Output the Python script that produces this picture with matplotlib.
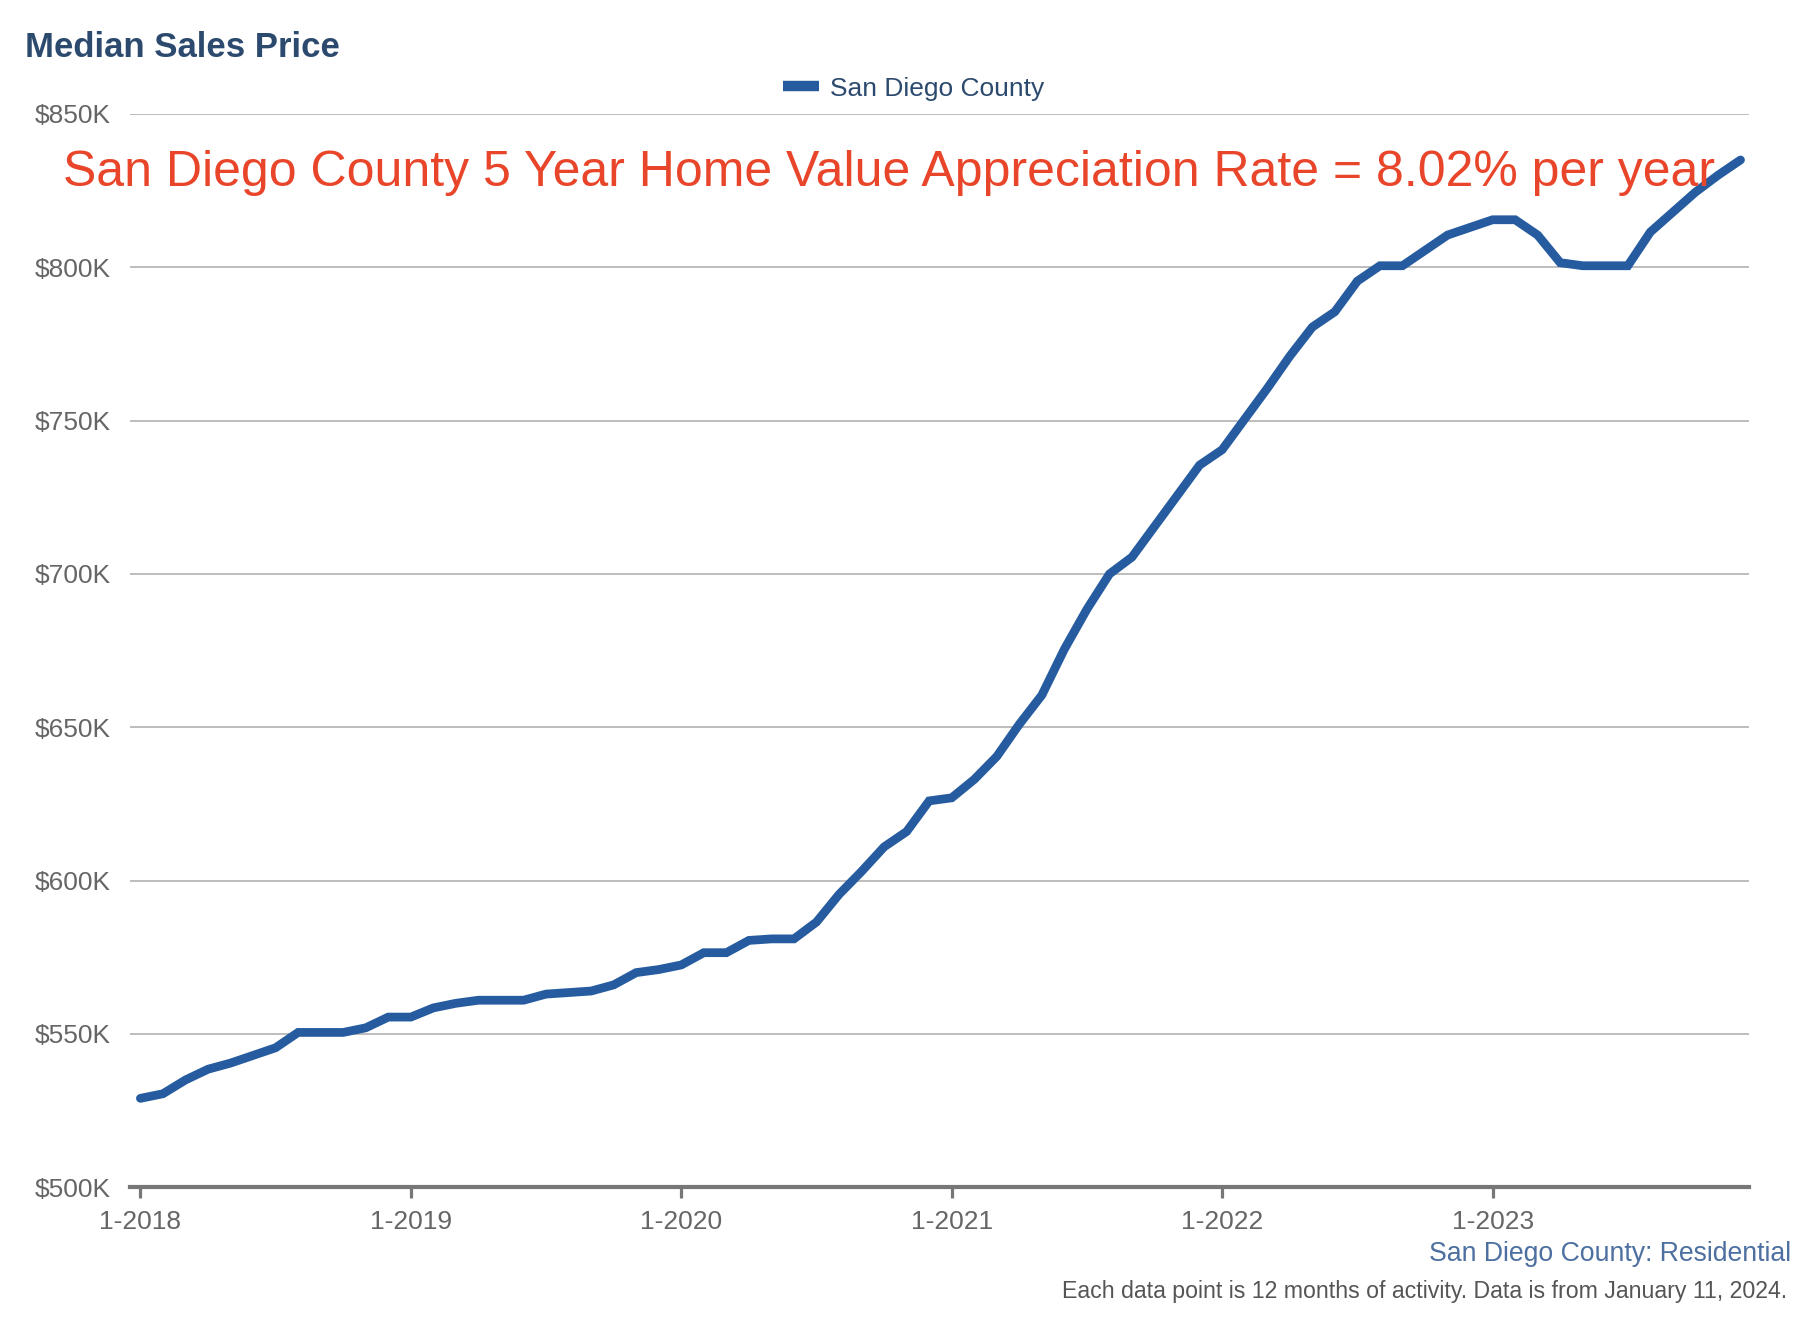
import matplotlib
matplotlib.use('Agg')
import matplotlib.pyplot as plt
from matplotlib.ticker import FuncFormatter

plt.rcParams['font.family'] = ['Liberation Sans', 'DejaVu Sans']

# monthly median sales price, $K, 1-2018 .. 12-2023
prices = [529, 530.5, 535, 538.5, 540.5, 543, 545.5, 550.5, 550.5, 550.5, 552, 555.5,
          555.5, 558.5, 560, 561, 561, 561, 563, 563.5, 564, 566, 570, 571,
          572.5, 576.5, 576.5, 580.5, 581, 581, 586.5, 595.5, 603, 611, 616, 626,
          627, 633, 640.5, 651, 660.5, 675.5, 688.5, 700, 705.5, 715.5, 725.5, 735.5,
          740.5, 750.5, 760.5, 771, 780.5, 785.5, 795.5, 800.5, 800.5, 805.5, 810.5, 813,
          815.5, 815.5, 810.5, 801.5, 800.5, 800.5, 800.5, 811.5, 818, 824.5, 830, 835]
months = list(range(len(prices)))
tick_pos = [0, 12, 24, 36, 48, 60]
tick_labels = ['1-2018', '1-2019', '1-2020', '1-2021', '1-2022', '1-2023']
y_ticks = [500000, 550000, 600000, 650000, 700000, 750000, 800000, 850000]

fig = plt.figure(figsize=(18.06, 13.22), dpi=100)
ax = fig.add_axes([0.072, 0.1019, 0.8966, 0.8119])

ax.plot(months, [p * 1000 for p in prices], color='#265c9f', lw=6.3,
        solid_joinstyle='miter', solid_capstyle='round', label='San Diego County', zorder=3)

ax.set_xlim(-0.46, 71.39)
ax.set_ylim(500000, 850000)
ax.set_yticks(y_ticks)
ax.yaxis.set_major_formatter(FuncFormatter(lambda v, p: '$%dK' % (v / 1000)))
ax.set_xticks(tick_pos)
ax.set_xticklabels(tick_labels)
ax.grid(axis='y', color='#b8b8b8', lw=1.3)
ax.set_axisbelow(True)
for s in ['top', 'right', 'left']:
    ax.spines[s].set_visible(False)
ax.spines['bottom'].set_color('#777777')
ax.spines['bottom'].set_linewidth(3)
ax.spines['bottom'].set_zorder(4)
ax.tick_params(axis='y', length=0, pad=14, labelsize=19, labelcolor='#666666')
ax.tick_params(axis='x', length=8, width=2.3, color='#777777', pad=8,
               labelsize=19, labelcolor='#666666')

fig.text(0.014, 0.964, 'Median Sales Price', fontsize=25, fontweight='bold',
         color='#2c4a6e', va='center', ha='left')
fig.legend(loc='center', bbox_to_anchor=(0.506, 0.933), frameon=False, fontsize=19,
           handlelength=1.35, handletextpad=0.45, labelcolor='#2c4a6e')
leg = fig.legends[0]
for h in leg.get_lines():
    h.set_linewidth(7.5)
    h.set_solid_capstyle('butt')

fig.text(0.035, 0.869, 'San Diego County 5 Year Home Value Appreciation Rate = 8.02% per year',
         fontsize=36, color='#e8452a', va='center', ha='left')

fig.text(0.992, 0.0514, 'San Diego County: Residential', fontsize=19.2, color='#4d70a0',
         ha='right', va='center')
fig.text(0.9896, 0.0227, 'Each data point is 12 months of activity. Data is from January 11, 2024.',
         fontsize=16.7, color='#555555', ha='right', va='center')

fig.savefig('out.png', dpi=100)
